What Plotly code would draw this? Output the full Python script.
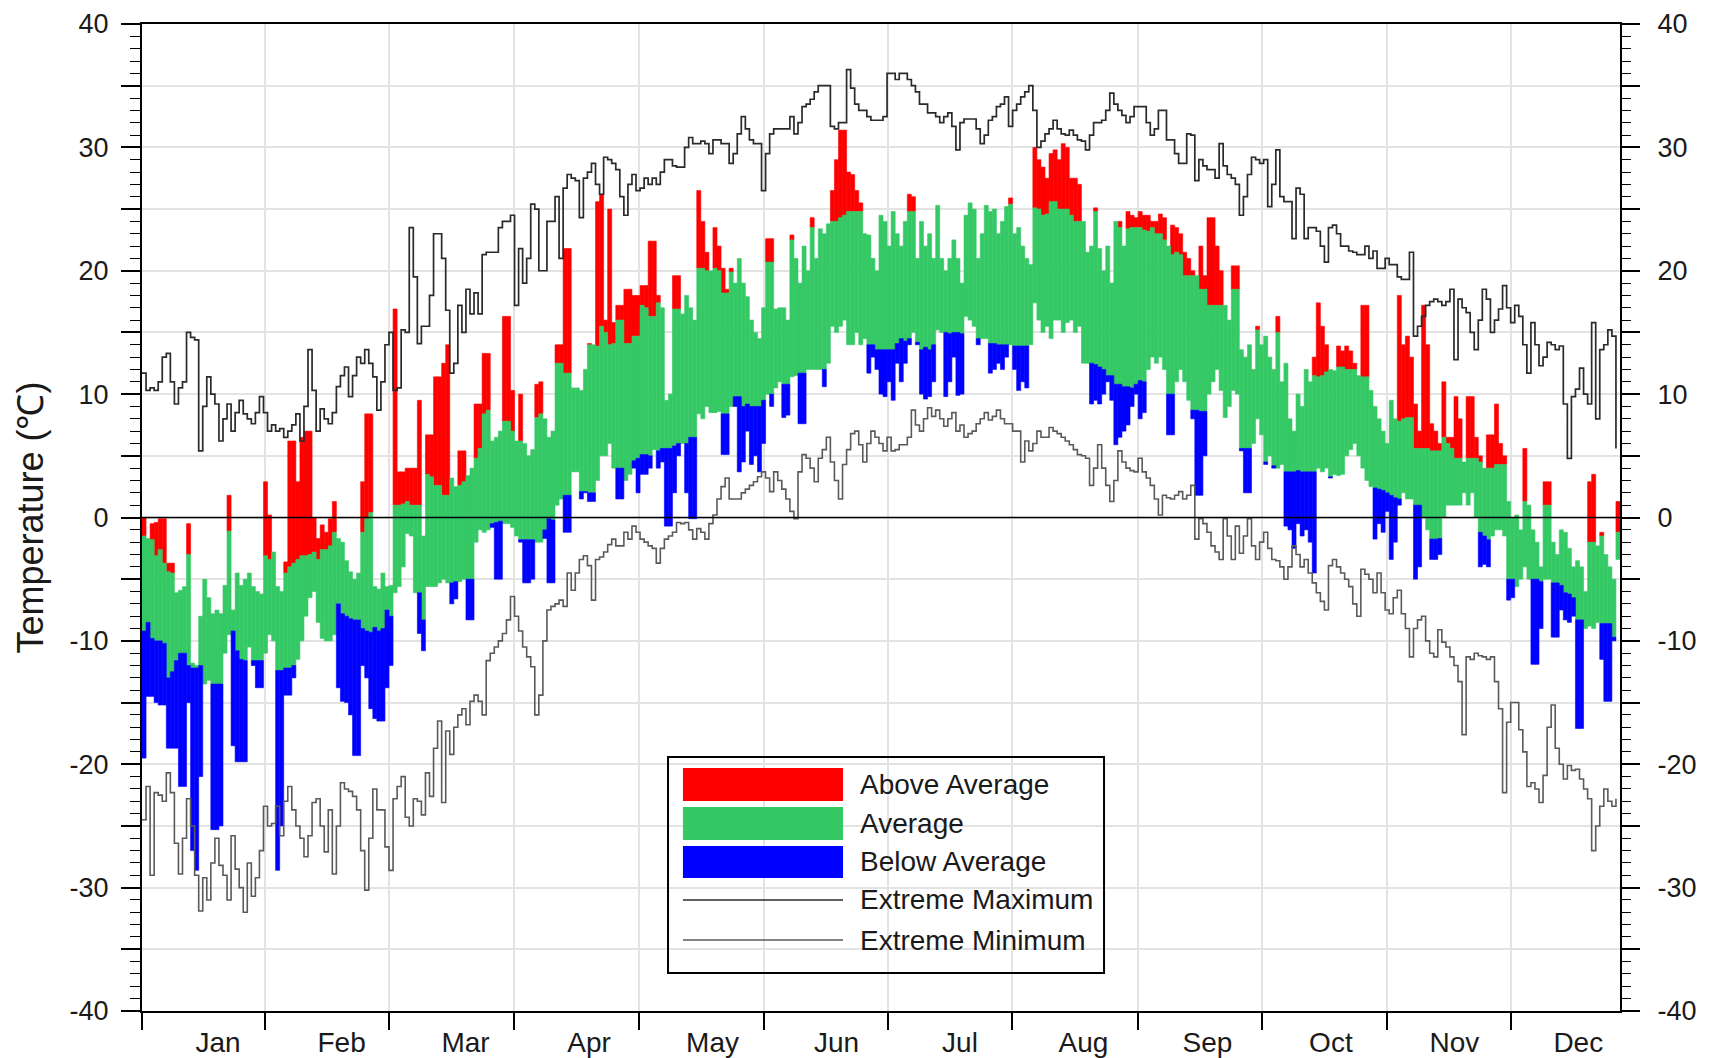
import plotly.graph_objects as go

MONTHS = ["Jan", "Feb", "Mar", "Apr", "May", "Jun",
          "Jul", "Aug", "Sep", "Oct", "Nov", "Dec"]
MONTH_EDGES = [0, 30.4, 61.1, 91.8, 122.8, 153.5, 184.2, 214.9, 245.9, 276.6, 307.5, 338.2]
MONTH_LABEL_POS = [18.8, 49.3, 79.9, 110.4, 140.9, 171.5, 202.0, 232.5, 263.1, 293.6, 324.1, 354.7]

# Daily maximum temperature
TMAX = [
    0, -1.7, -0.5, -0.4, -0.1, -0.1, -3.7, -3.7, -6.1, -5.9, -5.6, -0.5, -11.8, -12, -8, -5, -6.5, -7.8, -7.5, -7.8, -5.5, 1.8, -7.5, -4.5, -5.5, -5, -4.5, -5.6, -6, -6.2, 2.9,
    0.2, -2.8, -5.6, -6, -3.6, 6.2, 6.2, 2.9, 6.5, 7, 7, 0, -1.7, -0.6, -1.2, -0.1, 1.3, -1.7, -2, -3.5, -4.4, -5, -4.5, 2.9, 8.4, 8.4, -5.6, -5.8, -4.5, -5.6,
    -5.5, 16.9, 3.7, 3.7, 4, 4, 4, 9.5, -1.5, 6.7, 6.7, 11.4, 11.4, 12.5, 14, 3.2, 2.5, 5.4, 5.4, 3.4, 4, 9.2, 9.2, 13.3, 13.3, 6.2, 6.5, 7, 16.3, 16.3, 10.3,
    6.2, 10, 6, 5, 5.5, 10.8, 11, 8, 6.5, 7, 14, 14, 21.8, 21.8, 10.5, 10.5, 10.3, 12, 14.1, 14, 25.6, 26.2, 16, 25, 15.8, 17.2, 17.2, 18.5, 18.5, 18, 18,
    18.8, 18.8, 22.4, 22.4, 18, 17, 9.5, 10, 19.6, 19.6, 16.5, 18, 17, 16, 26.5, 24, 21.5, 20, 23.5, 22, 20.2, 18.5, 20.2, 19, 21, 19, 17.9, 16, 15, 14.5, 17,
    22.6, 22.6, 16.9, 17, 17, 16, 22.9, 21, 19, 22, 20, 24.3, 21, 23.4, 23, 23.8, 26.5, 29, 31.4, 31.4, 28, 27.8, 26.5, 25.5, 23, 22.9, 21, 20, 24.5, 24, 22,
    24.8, 23, 22, 24, 26.2, 26, 21, 24, 22, 23, 21, 25.3, 21, 20, 21, 22.5, 21, 19, 24.5, 25.5, 25, 21, 23, 25.3, 24.8, 25, 23, 24, 25.2, 25.9, 23,
    23.5, 22, 21, 20.5, 30, 29, 28.4, 27.5, 29.5, 29.8, 29, 30.3, 30, 27.5, 27.5, 27, 24, 21.5, 22, 25.1, 21.8, 20, 22, 19, 24, 24, 22, 24.8, 24.5, 24.3,
    24.8, 24.5, 24.5, 24, 24, 24.6, 24.3, 22, 23.7, 23.5, 23, 21.5, 21, 20, 19.6, 22, 19.6, 24.3, 24.3, 22, 20, 17.2, 16, 20.4, 20.4, 13.6, 13, 14, 12, 15.5, 14,
    14.7, 13, 12, 16.3, 11, 12.5, 8, 7, 10, 9, 12, 11, 13, 17.4, 15.5, 14, 12, 11.9, 13.9, 13.5, 13.9, 13.5, 12.5, 11.5, 17.2, 17.2, 10.3, 9, 8, 7, 6,
    9.5, 8, 18, 14, 14.7, 13, 9.2, 7, 17.2, 14, 7.6, 7, 6, 11, 6.5, 6.5, 9.8, 8, 4.5, 9.8, 9.8, 6.5, 5, 4, 6.7, 6.7, 9.2, 6, 5, 1.3, 0,
    0.2, -1, 5.6, 1, -1, -2, -4, 2.9, 2.9, -2, -3, -1, -1.2, -2.5, -4, -3.5, -4, -6, 2.9, 3.5, -2.3, -1.2, -3, -4, -5, 1.3,
]

# Daily minimum temperature
TMIN = [
    -19.5, -14.5, -14.5, -15, -15.2, -15.2, -18.7, -18.7, -18.7, -21.8, -21.8, -15, -27, -28.6, -21, -13.5, -13.2, -25.3, -25.3, -25, -11, -9.5, -18.5, -19.8, -19.8, -19.8, -10.5, -12, -13.8, -13.8, -11,
    -9.5, -10, -28.6, -25, -14.4, -14.4, -13, -11.5, -10, -8, -6.5, -6, -8.5, -9.8, -10, -10, -9.5, -13.8, -14.9, -15, -16, -19.3, -19.3, -12, -13, -15.5, -16.3, -16.5, -16.5, -13.8,
    -12, -6.1, -5.6, -4, -1.3, -1.5, -6.1, -9.4, -10.8, -5.6, -5.6, -5.6, -5.3, -5, -5.3, -7, -6.6, -5.2, -5, -8.3, -8.3, -2, -1, -1.2, -1, -0.8, -5, -5, -0.5, -0.5, -0.8,
    -1.5, -2, -5.3, -5.3, -5, -2, -2, -1.7, -5.3, -5.3, 1, 1.5, -1.2, -1.2, 3.7, 3.7, 1.5, 2, 1.3, 1.3, 3, 5, 5, 6, 4, 1.5, 1.5, 3, 3.5, 4, 2,
    3.5, 3.5, 4, 5.5, 4, 4.5, -0.7, -0.7, 2, 5, 6, 2, -0.1, -0.1, 8.4, 8, 9, 8.5, 8.5, 8.6, 5.1, 5.1, 9, 9, 3.7, 4.5, 7, 4.3, 5, 3.7, 6,
    10, 9, 10.5, 11, 8.1, 8.3, 11.4, 11.5, 7.6, 7.6, 12, 12, 12, 12, 10.6, 12.5, 15.5, 15, 15.5, 16, 14, 14, 15, 14, 14.5, 11.7, 13, 12, 10, 9.8, 11,
    9.5, 12.5, 11, 12.5, 14, 15, 14, 10, 9.6, 9.8, 11, 15.2, 15, 9.8, 11, 13, 9.9, 10, 16.3, 16, 15.5, 14, 14.5, 14.5, 11.7, 12, 12.5, 12, 13, 14, 12,
    10.3, 11, 10.5, 14, 17.4, 16, 15, 15.5, 14.5, 16, 16, 15, 15.8, 16, 15, 15.5, 12.5, 12.5, 9.2, 9.5, 9.2, 10, 11, 9.5, 5.9, 6.5, 7, 7.5, 9, 10,
    8, 8.5, 12, 13, 12.5, 13, 12, 6.7, 6.7, 11, 12, 11, 9.5, 8, 1.8, 1.8, 5, 10, 11, 12, 10.3, 8.1, 9, 10.3, 10, 5.4, 2, 2, 6, 8, 6.7,
    4.3, 5, 4, 4, 4.3, -0.7, -1, -2.5, -0.5, -1.5, -1, -2, -4.5, 4, 3.7, 4, 3.2, 3.5, 3.4, 3.5, 5, 5.5, 6, 5, 4, 3, 2.5, -1.75, -0.5, -1.2, 0.5,
    -3.4, -2, 1, 2, 1.5, 1.5, -5, -4, 0, -1, -3.4, -3.4, -3, 0, 1, 1, 1, 1, 2, 1, 2, 0, -4, -3.8, -4, -1.5, -1, -1, -1.5, -6.7, -6.5,
    -5.6, -5, -4, -5, -11.9, -11.9, -9, -5, -5, -9.7, -9.7, -7.5, -8.3, -8.5, -8, -17.1, -17.1, -9, -8.8, -9, -8.5, -11.5, -14.9, -14.9, -10, -3.4,
]

# Upper edge of the "average" band
NORMAL_HIGH = [
    -1.5, -1.5, -1.8, -3.1, -2.6, -3.7, -4.4, -4.5, -4.5, -4.3, -4, -3, -3.5, -4, -3.5, -2.5, -2, -2.5, -3, -2, -1.1, -1.1, -2, -2.5, -3, -3, -3, -3, -3, -3, -3.1,
    -3.4, -2.5, -4, -4.3, -4.5, -4, -3.7, -3.4, -3.1, -3.1, -3, -2.8, -3.4, -2.6, -2.6, -2.3, -1.2, -1.5, -1.5, -1.5, -1.5, -1.5, -1.3, -1.2, -0.1, 0.4, 0, 0, 0.5, 0.8,
    0.8, 1, 1, 1.1, 1.3, 1, 1, 1, 1.5, 3.5, 3.3, 2.6, 2.6, 1.8, 1.8, 3.4, 3, 2.6, 2.9, 3.5, 4, 4.8, 5.6, 8.4, 8.7, 7.5, 7.5, 7.8, 7.8, 7.8, 7,
    7, 6.2, 7, 7.5, 7.8, 8.1, 8.4, 9, 10, 11, 12.5, 12.5, 11.7, 11.7, 12, 12.5, 13, 13.5, 14, 14, 13.9, 15.5, 15, 14, 14.1, 16, 16, 14.1, 14.1, 14.7, 14.7,
    17.2, 17, 16.3, 16.3, 17.4, 17.5, 17.5, 17.5, 16.9, 16.9, 17.5, 18, 18.5, 19, 20.2, 20.2, 20, 20, 20.2, 20, 18.2, 18.2, 19.9, 20, 21.2, 20.5, 20.5, 20.5, 20.5, 20.5, 20.7,
    20.7, 20.7, 21, 21.5, 22, 22, 22.5, 22.5, 23, 23, 23.5, 23.5, 23.5, 23.5, 24, 24, 24, 24, 24.3, 24.5, 24.8, 24.8, 24.8, 24.8, 24.8, 24.8, 24.8, 24.8, 24.8, 24.8, 24.8,
    24.8, 24.8, 24.8, 24.8, 24.8, 24.8, 25, 25, 25, 25, 25, 25.5, 25.5, 25.5, 25.5, 25.5, 25.5, 25.5, 25.5, 25.5, 25.5, 25.5, 25.5, 25.5, 25.5, 25.5, 25.4, 25.4, 25.4, 25.4, 25.2,
    25.2, 25.2, 25.1, 25.1, 25.1, 25, 24.5, 24.6, 25.6, 25.6, 25, 25, 25, 24.5, 24, 24, 24, 24, 24.8, 24.8, 24.5, 24.5, 24, 24, 24, 23.5, 23.5, 23.4, 23.5, 23.5,
    23.5, 23.3, 23.2, 23.5, 23, 23, 22.5, 22, 21.3, 21.5, 21.3, 19.6, 19.6, 19.6, 19.6, 18.5, 18.5, 17.2, 17.2, 17.2, 17.2, 17.2, 17, 18.5, 18.5, 16, 16, 15.5, 15.5, 15.2, 15,
    15, 15, 15, 15, 14.5, 14, 13.5, 13, 12.5, 12, 12, 11.5, 11.5, 11.4, 11.5, 11.8, 12, 12, 12.2, 12.2, 12, 12, 12, 11.8, 11.4, 11.4, 10.5, 10.5, 10.2, 10, 10,
    10, 9.5, 7.8, 8, 8.1, 8.1, 5.6, 5.6, 5.6, 5.6, 5.4, 5.4, 5.4, 6.5, 6, 5.6, 4.8, 4.8, 4.8, 4.8, 4.8, 4.8, 4.5, 4.2, 4, 4, 4.3, 4.3, 4.3, 3, 2.5,
    2, 1.5, 1.3, 1.2, 1, 1, 1, 1, 1, 0.5, 0, -0.5, -1, -1, -1.5, -1.5, -1.5, -2, -2, -2, -1.5, -1.5, -1.5, -1.3, -1.2, -1.2,
]

# Lower edge of the "average" band
NORMAL_LOW = [
    -9.2, -8.5, -9.8, -10, -10, -10.2, -13, -12.5, -11.6, -11, -11, -12, -12.2, -12.2, -12, -13.5, -13.5, -13.5, -13.5, -13.5, -11, -10, -9.2, -10.8, -11.5, -11.6, -11, -11.6, -11.6, -11.6, -12,
    -12, -12.2, -12.4, -12.4, -12.2, -12.2, -12, -11.5, -10.5, -9.5, -9, -8.5, -10, -10, -10.2, -10.2, -9.6, -7, -7.8, -8, -8.2, -8.3, -8.3, -9, -9.2, -9.3, -8.9, -9.2, -9, -7.5,
    -8, -7, -7, -7, -7, -6.5, -6.3, -6.1, -8.3, -7, -6.5, -6, -6, -5.5, -5.3, -5.3, -5.2, -5.2, -5, -5, -5, -4.5, -4, -3, -2, -0.5, -0.4, -0.3, -0.5, -1, -1.5,
    -1.5, -1.8, -1.8, -1.8, -1.8, -2.5, -2.5, -1, -0.1, -0.2, 0.5, 1, 1.8, 1.8, 2, 2.1, 2.1, 2.1, 2, 2, 2.5, 3, 3.5, 4, 4, 4, 4, 3, 3.2, 4.6, 4.8,
    5.1, 5.1, 5, 5.2, 5.4, 5.6, 5.6, 5.6, 5.8, 6, 6, 6, 6.5, 6.5, 7, 7.5, 7.8, 8, 8.2, 8.4, 8.4, 8.4, 8.8, 9.8, 9.8, 9, 9.2, 9, 9, 9, 9.5,
    9.8, 10, 10.2, 10.5, 10.8, 10.8, 11, 11.2, 11.7, 11.7, 11.8, 11.8, 11.8, 11.7, 12, 12.5, 13, 13, 13, 13.5, 13.5, 13.6, 13.7, 13.9, 14, 14, 14, 13.6, 13.6, 13.6, 13.6,
    13.6, 14.1, 14.5, 14.3, 14.5, 14.5, 14.2, 13.6, 13.8, 13.6, 14, 14.5, 15, 15, 14.9, 15, 15, 14.9, 15, 15, 15, 14.5, 14.3, 14.1, 14.1, 14.1, 14, 14, 14, 14, 13.9,
    13.9, 13.9, 13.9, 13.8, 13.6, 13.5, 13.4, 13.3, 13.2, 13.1, 13, 13, 12.8, 12.8, 12.7, 12.6, 12.5, 12.5, 12.5, 12.4, 12.2, 12, 11.5, 11.5, 10.8, 10.8, 10.6, 10.6, 10.5, 10.8,
    11.1, 11, 11, 11, 10.8, 10.5, 10.2, 10, 10, 9.8, 9.5, 9.2, 8.7, 8.7, 8.7, 8.6, 8.6, 8.4, 8.2, 8, 8, 7.8, 7.5, 7, 6.5, 5.6, 5.6, 5.6, 5.2, 5, 4.8,
    4.5, 4.3, 4.2, 4, 3.9, 3.7, 3.7, 3.7, 3.8, 3.7, 3.7, 3.7, 3.7, 3.6, 3.5, 3.4, 3.3, 3.2, 3.1, 3, 3, 2.9, 2.8, 2.7, 2.6, 2.5, 2.5, 2.4, 2.3, 2.2, 2,
    1.8, 1.6, 1.5, 1.3, 1.2, 1.1, 1, 1, -1.8, -1.8, -1.75, -1.75, -1.7, -1.5, -1.5, -1.4, -1.3, -1.2, -1.2, -1.2, -1.2, -1.2, -1.2, -1.5, -1.8, -2.5, -3, -3.5, -4, -5, -5,
    -5.8, -5.5, -5, -5, -5, -5, -5.2, -5.3, -5.3, -5.3, -5.3, -5.5, -6.1, -6.2, -6.5, -8.3, -8.3, -9, -9, -9, -8.6, -8.6, -8.6, -8.6, -9.7, -9,
]

# Record highest maximum for each day
EXTREME_MAX = [
    11.7, 10.3, 10.5, 10.3, 11, 13, 13.3, 11, 9.2, 10.5, 11, 15, 14.6, 14.4, 5.4, 9, 11.4, 10, 9.2, 6.2, 8, 9.2, 7, 8.5, 9.5, 8.4, 8, 7.6, 8.5, 9.8, 8.5,
    7, 7.5, 7, 7.2, 6.5, 7, 7.5, 8.4, 6.2, 9, 13.6, 10.3, 7, 8.8, 8, 7.6, 8.5, 10.6, 11.5, 12.2, 9.8, 11.5, 13, 12.5, 13.6, 12.5, 11.4, 8.7, 11, 14,
    15, 10.3, 10.5, 15.2, 15, 23.5, 19.5, 14.1, 15.5, 15.5, 18, 23, 23, 21, 16.8, 11.7, 12.5, 17.2, 15, 18.5, 16.5, 18.2, 16.5, 21.3, 21.5, 21.5, 21.5, 23.5, 24, 24, 24.5,
    17.2, 21.8, 19, 21, 25.4, 25, 20, 20, 24, 24, 26, 21, 26.7, 27.8, 27.5, 27.3, 24.3, 27.5, 28, 28.7, 27, 26.2, 29.2, 29, 28.7, 28.2, 26, 24.5, 27, 27.8, 26.5,
    26.7, 27.5, 27, 27.5, 27, 28, 29, 29, 28.5, 28.4, 28.4, 30, 30.8, 30.3, 30.3, 30.5, 30.3, 29.5, 30.6, 30.6, 30.3, 30.3, 28.7, 29.5, 31.1, 32.5, 31.5, 30.6, 30.3, 30.3, 26.5,
    29.5, 31.1, 31.5, 31.5, 31.5, 31.5, 32.5, 31.1, 32, 33.3, 33.5, 33.9, 34.5, 35, 35, 35, 31.7, 31.5, 32, 32, 36.3, 34.8, 33.5, 33, 33, 32.5, 32.2, 32.2, 32.2, 32.5, 36,
    36, 35.5, 36, 36, 35.5, 35, 34.5, 33.5, 33.5, 32.8, 32.8, 32.5, 32, 32.5, 32.8, 31.7, 29.8, 32, 32.3, 32.3, 32.3, 31.5, 30.3, 31, 32.2, 32.5, 33.3, 33.5, 34.1, 31.7, 33,
    33.5, 34.1, 34.5, 35, 33, 30, 30.5, 31.1, 31.5, 32.2, 31.5, 31.1, 31, 31.4, 31, 30.6, 30.5, 29.8, 31, 32, 32, 32.2, 33, 34.4, 33.5, 33, 32.6, 32, 32.5, 33.3,
    33.3, 33.3, 32, 31, 31.5, 33, 33, 30.6, 30.6, 29.5, 28.7, 28.7, 31.1, 31, 27.3, 29, 28.5, 28.2, 28.2, 27.5, 30.3, 28.5, 27.8, 27.5, 27, 24.5, 26, 27.8, 29.2, 29, 28.7,
    29, 25.2, 27, 29.8, 26, 25.6, 25.6, 22.6, 26.7, 26.2, 22.6, 23.5, 23.5, 23.2, 22, 20.7, 23.5, 23.7, 23, 22, 22, 21.6, 21.5, 21.3, 21.3, 22, 21, 21.6, 20.2, 20.2, 21,
    20.5, 20.5, 19.5, 19.3, 19.3, 21.5, 14.7, 15.5, 16.3, 17.2, 17.5, 17.7, 17.5, 17.2, 17.5, 18.5, 12.8, 17.7, 17, 16.6, 15, 13.6, 16, 18.5, 17.7, 15, 16, 16.9, 18.8, 17, 15.8,
    17.2, 16.3, 14, 11.7, 15.8, 14, 12.3, 13, 14.2, 14, 13.6, 13.9, 9.2, 4.8, 9.8, 10.4, 12.1, 10, 9.2, 15.8, 8, 13.6, 14, 15.2, 14.7, 5.6,
]

# Record lowest minimum for each day
EXTREME_MIN = [
    -24.5, -21.8, -29, -22.3, -22.5, -23, -20.7, -22.3, -26.4, -28.9, -26, -22.8, -25, -29, -31.9, -29.2, -31, -28, -26, -28.2, -29, -31, -25.8, -28.5, -30, -32, -28, -30.7, -29.2, -27, -23.4,
    -25, -24.8, -23.4, -25.8, -23, -21.8, -23.7, -25, -26, -27.5, -25.8, -23.1, -22.8, -25, -27.1, -23.7, -28.9, -25, -21.5, -22, -22.2, -22.6, -23.7, -27, -30.2, -26, -22, -23.7, -23.7, -26.7,
    -28.6, -22.8, -21.8, -21, -24.3, -25, -22.8, -23, -24.1, -20.7, -22.6, -18.7, -16.5, -23.1, -17.3, -19.2, -17, -16, -15.5, -16.8, -14.9, -14.4, -14.9, -16, -11.6, -11, -10.5, -10, -9.4, -8.3, -6.4,
    -8, -9.2, -10.5, -11.3, -12.1, -16, -14.4, -10, -7.5, -7.2, -7, -6.7, -7.2, -4.5, -5.9, -4.5, -3.4, -3.1, -3.9, -6.7, -3.4, -3.2, -2.8, -2.2, -1.75, -2.3, -2.3, -1.2, -1.75, -0.7, -1.2,
    -1.75, -2, -2.3, -2.5, -3.7, -2.5, -1.75, -1.5, -1.2, -0.4, -0.5, -0.4, -1, -1.75, -0.9, -1.2, -1.75, -0.5, 0.2, 1.5, 2.5, 3.2, 1.5, 1.5, 1.5, 2, 2.3, 2.6, 2.9, 3.3, 3.7,
    3.2, 2.1, 3.7, 3, 2.3, 1.5, 0.5, -0.1, 3.7, 5.1, 4.8, 4, 2.9, 4.8, 5.5, 6.5, 4.5, 3, 1.5, 4.3, 5.5, 6.8, 7, 5.9, 4.5, 6, 7, 6.5, 6, 5.4, 6.5,
    5.4, 5.5, 5.9, 5.9, 6.5, 8.7, 7.5, 7, 8, 8.9, 8.2, 8.7, 8, 7.4, 8, 8.5, 7, 7.5, 6.5, 6.8, 7, 7.6, 8, 8.5, 7.9, 8.2, 8.7, 8, 7.6, 7.6, 7,
    7, 4.5, 6.2, 5.4, 6, 7, 6.5, 6.5, 7.3, 7, 6.8, 6.5, 6.2, 5.9, 5.5, 5.1, 5, 4.8, 2.6, 4, 5.9, 4, 2.6, 1.3, 3, 5.4, 4.5, 4, 3.8, 3.7,
    4.8, 3.7, 3.2, 2.6, 1.5, 0.2, 1.8, 1.6, 1.5, 1.8, 2.1, 1.5, 1.8, 2.6, -1.75, -0.1, -0.5, -1.2, -2.3, -2.8, -3.4, -0.1, -1.5, -3.4, -0.7, -2.9, -1.5, -0.1, -2.3, -3.4, -2,
    -1.2, -2.5, -3.4, -3.5, -4, -5, -4, -2.3, -3, -4, -3.4, -4.5, -5.3, -6.1, -6.8, -7.5, -3.9, -3.4, -4, -4.5, -5, -5.6, -7, -8, -4.2, -4.6, -5, -6.1, -4.5, -6.1, -7.5,
    -7.8, -6.5, -5.9, -7.8, -9, -11.3, -9, -8.3, -8, -10, -11, -11.3, -9.1, -10.1, -10.5, -11.3, -12, -13.3, -17.6, -11.3, -11.5, -11, -11.2, -11.3, -11.5, -11.3, -13.3, -15.5, -22.3, -16.6, -15,
    -15, -17.2, -19, -21.8, -21.5, -22, -23.1, -20.9, -17, -15.2, -18.7, -20, -21.2, -20.1, -20.5, -20.4, -21.2, -22, -22.8, -27, -25, -23.4, -22, -23, -23.4, -22.8,
]

RED = "#ff0000"
GREEN = "#35c966"
BLUE = "#0000ff"
TEXT = "#1a1a1a"
GRID = "#e3e3e3"
MAX_LINE = "#2a2a2a"
MIN_LINE = "#5a5a5a"
FONT = "Liberation Sans, Arial, Helvetica, sans-serif"

# split every daily bar into the part above / inside / below the average band
above_x, above_base, above_h = [], [], []
avg_x, avg_base, avg_h = [], [], []
below_x, below_base, below_h = [], [], []
for i, (hi, lo, nh, nl) in enumerate(zip(TMAX, TMIN, NORMAL_HIGH, NORMAL_LOW)):
    xc = i + 0.5
    if hi > nh:
        b = max(lo, nh)
        above_x.append(xc); above_base.append(b); above_h.append(hi - b)
    top, bot = min(hi, nh), max(lo, nl)
    if top > bot:
        avg_x.append(xc); avg_base.append(bot); avg_h.append(top - bot)
    if lo < nl:
        t = min(hi, nl)
        below_x.append(xc); below_base.append(lo); below_h.append(t - lo)

fig = go.Figure()
for xs, bs, hs, col, name in [(above_x, above_base, above_h, RED, "Above Average"),
                               (avg_x, avg_base, avg_h, GREEN, "Average"),
                               (below_x, below_base, below_h, BLUE, "Below Average")]:
    # a thin outline in the fill colour closes the anti-aliasing seams between days
    fig.add_trace(go.Bar(x=xs, y=hs, base=bs, width=1, name=name,
                         marker=dict(color=col, line=dict(width=0.6, color=col))))

fig.add_trace(go.Scatter(x=list(range(len(EXTREME_MAX))), y=EXTREME_MAX, mode="lines",
                         name="Extreme Maximum", line=dict(color=MAX_LINE, width=1.7, shape="hv")))
fig.add_trace(go.Scatter(x=list(range(len(EXTREME_MIN))), y=EXTREME_MIN, mode="lines", yaxis="y2",
                         name="Extreme Minimum", line=dict(color=MIN_LINE, width=1.6, shape="hv")))

ytick_vals = list(range(-40, 41, 5))
ytick_text = [str(v) if v % 10 == 0 else "" for v in ytick_vals]
yaxis_common = dict(
    range=[-40, 40], tickmode="array", tickvals=ytick_vals, ticktext=ytick_text,
    ticks="outside", ticklen=19, tickwidth=1.5, tickcolor="black", automargin=False,
    tickfont=dict(size=27, color=TEXT, family=FONT),
    minor=dict(dtick=1, ticks="outside", ticklen=10, tickwidth=1.2, tickcolor="black", showgrid=False),
)

# the page body adds 8px around the figure, so the figure is shifted by 8px
fig.update_layout(
    width=1695, height=1050,
    margin=dict(l=134, r=83, t=16, b=47),
    paper_bgcolor="white", plot_bgcolor="white",
    barmode="overlay", showlegend=False,
    font=dict(family=FONT, color=TEXT),
    xaxis=dict(
        range=[0, 365], tickmode="array", tickvals=MONTH_LABEL_POS, ticktext=MONTHS,
        ticks="outside", ticklen=5, tickcolor="rgba(0,0,0,0)", automargin=False,
        tickfont=dict(size=28, color=TEXT, family=FONT),
        showgrid=False, zeroline=False,
        showline=True, linecolor="black", linewidth=2, mirror=True,
        minor=dict(tickmode="array", tickvals=MONTH_EDGES, ticks="outside", ticklen=17,
                   tickwidth=1.5, tickcolor="black", showgrid=True, gridcolor=GRID, gridwidth=1.5),
    ),
    yaxis=dict(showgrid=True, gridcolor=GRID, gridwidth=1.5, zeroline=False,
               showline=True, linecolor="black", linewidth=2, mirror=True,
               ticklabelstandoff=7, **yaxis_common),
    yaxis2=dict(overlaying="y", side="right", showgrid=False, zeroline=False,
                showline=False, ticklabelstandoff=12, **yaxis_common),
)

# zero line across the plot
fig.add_shape(type="line", xref="paper", yref="y", x0=0, x1=1, y0=0, y1=0,
              line=dict(color="black", width=1.6), layer="above")

# y axis title
fig.add_annotation(text="Temperature (℃)", xref="paper", yref="paper", x=-0.0757, y=0.5,
                   textangle=-90, showarrow=False, xanchor="center", yanchor="middle",
                   font=dict(size=36, color=TEXT, family=FONT))

# legend box drawn inside the plot
LEG_X0, LEG_X1, LEG_Y0, LEG_Y1 = 0.3559, 0.6509, 0.0385, 0.2573
SW_X0, SW_X1, TXT_X = 0.366, 0.4743, 0.4844
fig.add_shape(type="rect", xref="paper", yref="paper", x0=LEG_X0, x1=LEG_X1, y0=LEG_Y0, y1=LEG_Y1,
              line=dict(color="black", width=2), fillcolor="rgba(0,0,0,0)")
legend_rows = [("Above Average", RED, "box", 0.2462, 0.2128),
               ("Average", GREEN, "box", 0.2067, 0.1733),
               ("Below Average", BLUE, "box", 0.1672, 0.1348),
               ("Extreme Maximum", MAX_LINE, "line", 0.1125, 0.1125),
               ("Extreme Minimum", MIN_LINE, "line", 0.0719, 0.0719)]
for label, col, kind, ya, yb in legend_rows:
    if kind == "box":
        fig.add_shape(type="rect", xref="paper", yref="paper", x0=SW_X0, x1=SW_X1, y0=yb, y1=ya,
                      line=dict(width=0), fillcolor=col)
    else:
        fig.add_shape(type="line", xref="paper", yref="paper", x0=SW_X0, x1=SW_X1, y0=ya, y1=ya,
                      line=dict(color=col, width=1.6))
    fig.add_annotation(text=label, xref="paper", yref="paper", x=TXT_X, y=(ya + yb) / 2,
                       showarrow=False, xanchor="left", yanchor="middle",
                       font=dict(size=28, color=TEXT, family=FONT))

fig.write_html("out.html")
